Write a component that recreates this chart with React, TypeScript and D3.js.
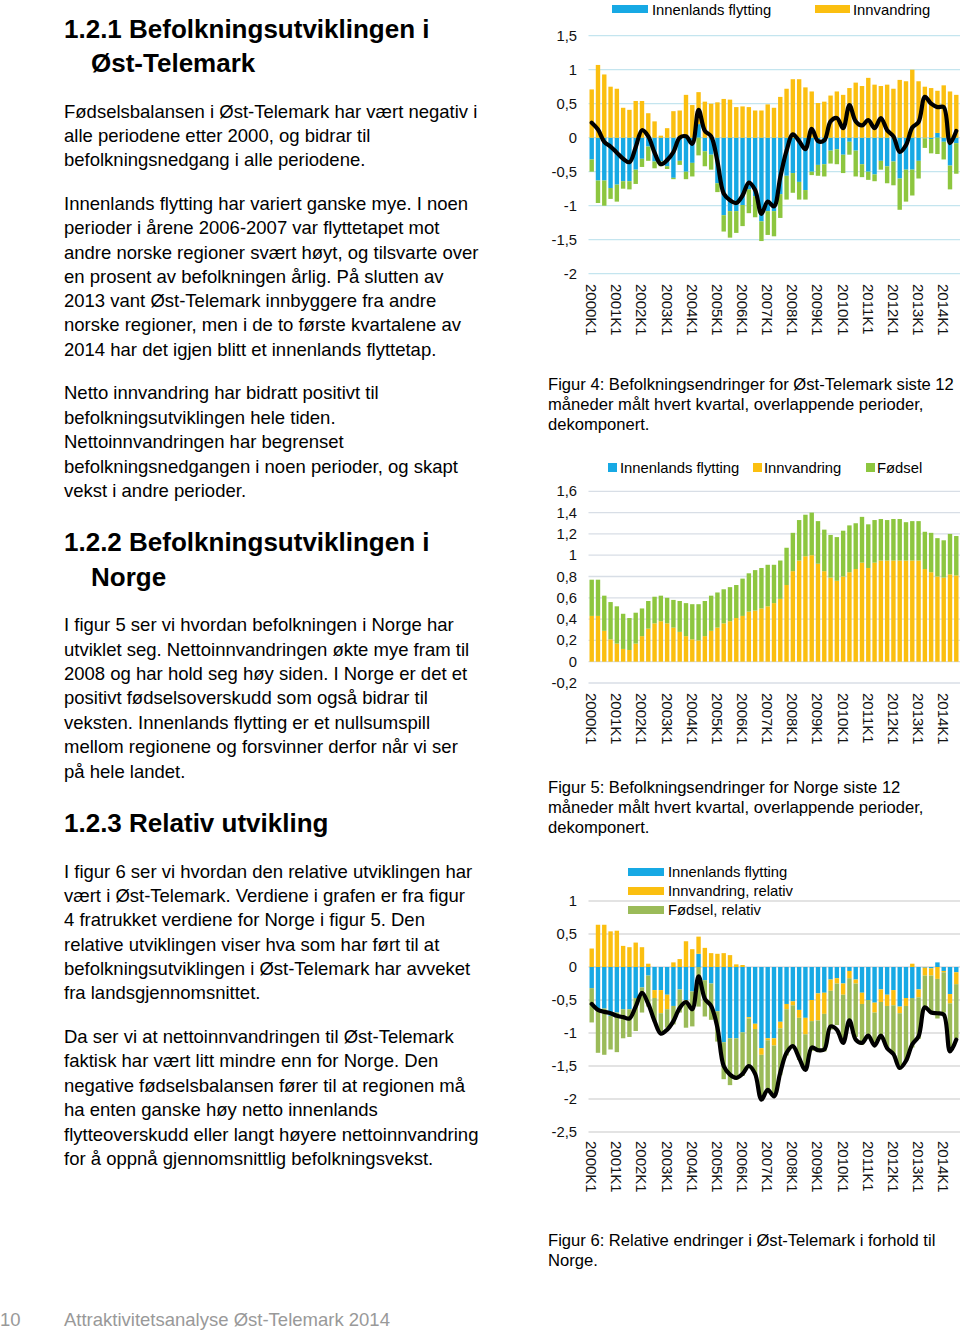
import React from 'react';
import * as d3 from 'd3';

const FONT = '"Liberation Sans", Arial, Helvetica, sans-serif';

const years = [2000, 2001, 2002, 2003, 2004, 2005, 2006, 2007, 2008, 2009, 2010, 2011, 2012, 2013, 2014];
const quarters: string[] = [];
years.forEach((y) => [1, 2, 3, 4].forEach((q) => quarters.push(`${y}K${q}`)));
const cats = quarters.slice(0, 59);
const tickLabels = ['2000K1', '2001K1', '2002K1', '2003K1', '2004K1', '2005K1', '2006K1', '2007K1', '2008K1', '2009K1', '2010K1', '2011K1', '2012K1', '2013K1', '2014K1'];

// Figur 4: Øst-Telemark
const innenlands4 = [
  -0.32, -0.63, -0.63, -0.74, -0.69, -0.64, -0.64, -0.47, -0.31, -0.13,
  -0.35, -0.35, -0.42, -0.59, -0.34, -0.50, -0.37, 0.20, -0.20, -0.25,
  -0.67, -1.14, -1.08, -1.08, -0.99, -0.76, -0.86, -1.23, -1.08, -1.08,
  -0.83, -0.56, -0.52, -0.65, -0.77, -0.50, -0.40, -0.39, -0.19, -0.17,
  -0.25, -0.06, -0.19, -0.39, -0.50, -0.54, -0.34, -0.42, -0.35, -0.60,
  -0.47, -0.47, -0.34, -0.01, -0.02, 0.07, -0.06, -0.41, -0.08,
];
const innvandring4 = [
  0.71, 1.07, 0.93, 0.75, 0.72, 0.44, 0.41, 0.54, 0.54, 0.36,
  0.24, 0.03, 0.14, 0.39, 0.40, 0.63, 0.48, 0.47, 0.53, 0.50,
  0.52, 0.57, 0.56, 0.45, 0.46, 0.45, 0.40, 0.40, 0.49, 0.44,
  0.60, 0.72, 0.86, 0.86, 0.74, 0.68, 0.51, 0.53, 0.62, 0.68,
  0.63, 0.73, 0.81, 0.76, 0.88, 0.78, 0.76, 0.78, 0.72, 0.85,
  0.83, 1.00, 0.83, 0.75, 0.73, 0.62, 0.77, 0.68, 0.63,
];
const fodsel4 = [
  -0.18, -0.33, -0.37, -0.16, -0.25, -0.11, -0.12, -0.21, -0.12, -0.21,
  -0.10, -0.07, -0.04, -0.02, -0.06, -0.11, -0.20, -0.26, -0.22, -0.22,
  -0.13, -0.24, -0.39, -0.32, -0.31, -0.35, -0.31, -0.29, -0.35, -0.37,
  -0.35, -0.35, -0.29, -0.26, -0.14, -0.05, -0.16, -0.18, -0.19, -0.22,
  -0.27, -0.19, -0.38, -0.19, -0.12, -0.10, -0.13, -0.25, -0.35, -0.46,
  -0.47, -0.38, -0.26, -0.14, -0.21, -0.24, -0.26, -0.35, -0.45,
];
const netto4 = [
  0.22, 0.12, -0.06, -0.13, -0.22, -0.31, -0.36, -0.14, 0.11, 0.02,
  -0.22, -0.39, -0.33, -0.21, 0.00, 0.02, -0.09, 0.41, 0.10, 0.02,
  -0.35, -0.82, -0.92, -0.96, -0.85, -0.66, -0.77, -1.12, -0.94, -1.01,
  -0.58, -0.19, 0.05, -0.05, -0.17, 0.13, -0.05, -0.04, 0.24, 0.29,
  0.14, 0.48, 0.24, 0.18, 0.26, 0.14, 0.29, 0.11, 0.02, -0.21,
  -0.11, 0.15, 0.23, 0.60, 0.50, 0.45, 0.45, -0.08, 0.10,
];

// Figur 5: Norge
const innenlands5 = [
  0, 0, 0, 0, 0, 0, 0, 0, 0, 0,
  0, 0, 0, 0, 0, 0, 0, 0, 0, 0,
  0, 0, 0, 0, 0, 0, 0, 0, 0, 0,
  0, 0, 0, 0, 0, 0, 0, 0, 0, 0,
  0, 0, 0, 0, 0, 0, 0, 0, 0, 0,
  0, 0, 0, 0, 0, 0, 0, 0, 0,
];
const innvandring5 = [
  0.43, 0.43, 0.29, 0.21, 0.17, 0.12, 0.11, 0.17, 0.24, 0.31,
  0.36, 0.38, 0.36, 0.32, 0.28, 0.24, 0.21, 0.20, 0.24, 0.29,
  0.32, 0.36, 0.38, 0.41, 0.43, 0.47, 0.48, 0.50, 0.52, 0.55,
  0.59, 0.72, 0.85, 0.95, 0.99, 1.00, 0.92, 0.85, 0.79, 0.76,
  0.80, 0.84, 0.87, 0.93, 0.88, 0.93, 0.95, 0.95, 0.95, 0.95,
  0.95, 0.95, 0.95, 0.87, 0.84, 0.80, 0.79, 0.82, 0.81,
];
const fodsel5 = [
  0.34, 0.34, 0.33, 0.35, 0.35, 0.33, 0.30, 0.29, 0.26, 0.26,
  0.25, 0.24, 0.24, 0.26, 0.29, 0.31, 0.33, 0.34, 0.33, 0.33,
  0.33, 0.32, 0.32, 0.31, 0.35, 0.36, 0.38, 0.38, 0.39, 0.36,
  0.36, 0.35, 0.36, 0.38, 0.39, 0.40, 0.40, 0.39, 0.40, 0.41,
  0.43, 0.44, 0.43, 0.43, 0.41, 0.40, 0.39, 0.38, 0.39, 0.39,
  0.36, 0.37, 0.37, 0.35, 0.37, 0.36, 0.35, 0.38, 0.37,
];

// Figur 6: relativ
const innenlands6 = [
  -0.32, -0.63, -0.63, -0.74, -0.69, -0.64, -0.64, -0.47, -0.31, -0.13,
  -0.35, -0.35, -0.42, -0.59, -0.34, -0.50, -0.37, 0.20, -0.20, -0.25,
  -0.67, -1.14, -1.08, -1.08, -0.99, -0.76, -0.86, -1.23, -1.08, -1.08,
  -0.83, -0.56, -0.52, -0.65, -0.77, -0.50, -0.40, -0.39, -0.19, -0.17,
  -0.25, -0.06, -0.19, -0.39, -0.50, -0.54, -0.34, -0.42, -0.35, -0.60,
  -0.47, -0.47, -0.34, -0.01, -0.02, 0.07, -0.06, -0.41, -0.08,
];
const innvandring6 = [
  0.28, 0.64, 0.64, 0.54, 0.55, 0.32, 0.30, 0.37, 0.30, 0.05,
  -0.12, -0.35, -0.22, 0.07, 0.12, 0.39, 0.27, 0.26, 0.29, 0.21,
  0.20, 0.21, 0.18, 0.04, 0.03, -0.02, -0.08, -0.10, -0.03, -0.11,
  -0.10, -0.08, -0.06, -0.12, -0.25, -0.32, -0.41, -0.32, -0.17, -0.08,
  -0.17, -0.11, -0.06, -0.17, 0.00, -0.15, -0.19, -0.17, -0.23, -0.10,
  -0.12, 0.05, -0.12, -0.12, -0.11, -0.18, -0.02, -0.14, -0.18,
];
const fodsel6 = [
  -0.52, -0.67, -0.70, -0.51, -0.60, -0.44, -0.42, -0.50, -0.38, -0.47,
  -0.35, -0.31, -0.28, -0.28, -0.35, -0.42, -0.53, -0.60, -0.55, -0.55,
  -0.46, -0.56, -0.71, -0.63, -0.66, -0.71, -0.69, -0.67, -0.74, -0.73,
  -0.71, -0.70, -0.65, -0.64, -0.53, -0.45, -0.48, -0.57, -0.59, -0.63,
  -0.70, -0.63, -0.81, -0.62, -0.53, -0.50, -0.52, -0.63, -0.74, -0.85,
  -0.83, -0.75, -0.63, -0.49, -0.58, -0.60, -0.61, -0.73, -0.82,
];
const netto6 = [
  -0.56, -0.65, -0.68, -0.70, -0.74, -0.76, -0.78, -0.60, -0.39, -0.56,
  -0.82, -1.01, -0.95, -0.82, -0.62, -0.53, -0.64, -0.14, -0.48, -0.59,
  -0.92, -1.50, -1.63, -1.68, -1.62, -1.50, -1.62, -2.01, -1.86, -1.96,
  -1.60, -1.30, -1.20, -1.38, -1.56, -1.22, -1.26, -1.25, -0.90, -0.95,
  -1.15, -0.81, -1.10, -1.15, -1.04, -1.19, -1.04, -1.23, -1.32, -1.53,
  -1.42, -1.17, -1.05, -0.61, -0.69, -0.70, -0.72, -1.28, -1.10,
];

const yTicks4 = [1.5, 1, 0.5, 0, -0.5, -1, -1.5, -2];
const yTicks5 = [1.6, 1.4, 1.2, 1, 0.8, 0.6, 0.4, 0.2, 0, -0.2];
const yTicks6 = [1, 0.5, 0, -0.5, -1, -1.5, -2, -2.5];

const BLUE = '#17a9e4';
const ORANGE = '#fbbf10';
const GREEN = '#8dc63f';
const GREEN6 = '#9bbb59';

const fmt = (v: number) => String(v).replace('.', ',');

type Series = { key: string; values: number[]; color: string };

function Chart(props: {
  top: number; bottom: number; domain: [number, number]; ticks: number[];
  series: Series[]; line?: number[]; grid: string; labelY: number;
}) {
  const { top, bottom, domain, ticks, series, line, grid, labelY } = props;
  const x = d3.scaleBand<string>().domain(cats).range([588.56, 959.43]).paddingInner(0.3).paddingOuter(0.15);
  const y = d3.scaleLinear().domain(domain).range([bottom, top]);
  const bw = x.bandwidth();
  const rows = cats.map((c, i) => {
    const r: any = { c };
    series.forEach((s) => (r[s.key] = s.values[i]));
    return r;
  });
  const layers = d3.stack<any>().keys(series.map((s) => s.key)).offset(d3.stackOffsetDiverging)(rows);
  const lineGen = d3.line<number>()
    .x((_, i) => (x(cats[i]) as number) + bw / 2)
    .y((v) => y(v))
    .curve(d3.curveCatmullRom.alpha(0.5));
  return (
    <g>
      {ticks.map((t) => (
        <g key={t}>
          <line x1={588.5} x2={960} y1={y(t)} y2={y(t)} stroke={grid} strokeWidth={1.3} />
          <text x={577} y={y(t)} textAnchor="end" dominantBaseline="central" fontSize={14.8} fill="#111">{fmt(t)}</text>
        </g>
      ))}
      {layers.map((layer, li) => (
        <g key={layer.key} fill={series[li].color}>
          {layer.map((d, i) => {
            const a = y(d[0]);
            const b = y(d[1]);
            const h = Math.abs(a - b);
            if (h < 0.01) return null;
            return <rect key={i} x={x(cats[i])} y={Math.min(a, b)} width={bw} height={h} />;
          })}
        </g>
      ))}
      {line && (
        <path d={lineGen(line) || ''} fill="none" stroke="#000" strokeWidth={4.2} strokeLinejoin="round" strokeLinecap="round" />
      )}
      {tickLabels.map((t) => (
        <text key={t} transform={`translate(${(x(t) as number) + bw / 2},${labelY}) rotate(90)`} dominantBaseline="central" fontSize={15} fill="#111">{t}</text>
      ))}
    </g>
  );
}

function Lines({ x, lines, size, weight }: { x: number; lines: [string, number][]; size: number; weight?: string }) {
  return (
    <g>
      {lines.map(([t, yy], i) => (
        <text key={i} x={x} y={yy} fontSize={size} fontWeight={weight || 'normal'} fill="#000">{t}</text>
      ))}
    </g>
  );
}

export default function App() {
  const body = 18.5;
  return (
    <svg width={960} height={1330} viewBox="0 0 960 1330" style={{ position: 'absolute', left: 0, top: 0, background: '#fff' }} fontFamily={FONT}>
      <rect x={0} y={0} width={960} height={1330} fill="#fff" />
      {/* Left column */}
      <Lines x={64} size={26} weight="bold" lines={[['1.2.1 Befolkningsutviklingen i', 38]]} />
      <Lines x={91} size={26} weight="bold" lines={[['Øst-Telemark', 72]]} />
      <Lines x={64} size={body} lines={[
        ['Fødselsbalansen i Øst-Telemark har vært negativ i', 118],
        ['alle periodene etter 2000, og bidrar til', 142],
        ['befolkningsnedgang i alle periodene.', 166],
        ['Innenlands flytting har variert ganske mye. I noen', 210],
        ['perioder i årene 2006-2007 var flyttetapet mot', 234],
        ['andre norske regioner svært høyt, og tilsvarte over', 259],
        ['en prosent av befolkningen årlig. På slutten av', 283],
        ['2013 vant Øst-Telemark innbyggere fra andre', 307],
        ['norske regioner, men i de to første kvartalene av', 331],
        ['2014 har det igjen blitt et innenlands flyttetap.', 356],
        ['Netto innvandring har bidratt positivt til', 399],
        ['befolkningsutviklingen hele tiden.', 424],
        ['Nettoinnvandringen har begrenset', 448],
        ['befolkningsnedgangen i noen perioder, og skapt', 473],
        ['vekst i andre perioder.', 497],
      ]} />
      <Lines x={64} size={26} weight="bold" lines={[['1.2.2 Befolkningsutviklingen i', 551]]} />
      <Lines x={91} size={26} weight="bold" lines={[['Norge', 586]]} />
      <Lines x={64} size={body} lines={[
        ['I figur 5 ser vi hvordan befolkningen i Norge har', 631],
        ['utviklet seg. Nettoinnvandringen økte mye fram til', 656],
        ['2008 og har hold seg høy siden. I Norge er det et', 680],
        ['positivt fødselsoverskudd som også bidrar til', 704],
        ['veksten. Innenlands flytting er et nullsumspill', 729],
        ['mellom regionene og forsvinner derfor når vi ser', 753],
        ['på hele landet.', 778],
      ]} />
      <Lines x={64} size={26} weight="bold" lines={[['1.2.3 Relativ utvikling', 832]]} />
      <Lines x={64} size={body} lines={[
        ['I figur 6 ser vi hvordan den relative utviklingen har', 878],
        ['vært i Øst-Telemark. Verdiene i grafen er fra figur', 902],
        ['4 fratrukket verdiene for Norge i figur 5. Den', 926],
        ['relative utviklingen viser hva som har ført til at', 951],
        ['befolkningsutviklingen i Øst-Telemark har avveket', 975],
        ['fra landsgjennomsnittet.', 999],
        ['Da ser vi at nettoinnvandringen til Øst-Telemark', 1043],
        ['faktisk har vært litt mindre enn for Norge. Den', 1067],
        ['negative fødselsbalansen fører til at regionen må', 1092],
        ['ha enten ganske høy netto innenlands', 1116],
        ['flytteoverskudd eller langt høyere nettoinnvandring', 1141],
        ['for å oppnå gjennomsnittlig befolkningsvekst.', 1165],
      ]} />
      {/* Footer */}
      <text x={0} y={1326} fontSize={body} fill="#999">10</text>
      <text x={64} y={1326} fontSize={body} fill="#999">Attraktivitetsanalyse Øst-Telemark 2014</text>

      {/* Chart 1 */}
      <rect x={612} y={5} width={36} height={8} fill={BLUE} />
      <text x={652} y={10} dominantBaseline="central" fontSize={14.8}>Innenlands flytting</text>
      <rect x={815} y={5} width={35} height={8} fill={ORANGE} />
      <text x={853} y={10} dominantBaseline="central" fontSize={14.8}>Innvandring</text>
      <Chart top={35.7} bottom={273.7} domain={[-2, 1.5]} ticks={yTicks4} grid="#c4e5ef" labelY={284}
        series={[
          { key: 'innenlands', values: innenlands4, color: BLUE },
          { key: 'innvandring', values: innvandring4, color: ORANGE },
          { key: 'fodsel', values: fodsel4, color: GREEN },
        ]} line={netto4} />
      <Lines x={548} size={16.6} lines={[
        ['Figur 4: Befolkningsendringer for Øst-Telemark siste 12', 390],
        ['måneder målt hvert kvartal, overlappende perioder,', 410],
        ['dekomponert.', 430],
      ]} />

      {/* Chart 2 */}
      <rect x={608} y={463} width={9} height={9} fill={BLUE} />
      <text x={620} y={468} dominantBaseline="central" fontSize={14.8}>Innenlands flytting</text>
      <rect x={753} y={463} width={9} height={9} fill={ORANGE} />
      <text x={764} y={468} dominantBaseline="central" fontSize={14.8}>Innvandring</text>
      <rect x={866} y={463} width={9} height={9} fill={GREEN} />
      <text x={877} y={468} dominantBaseline="central" fontSize={14.8}>Fødsel</text>
      <Chart top={491.3} bottom={683} domain={[-0.2, 1.6]} ticks={yTicks5} grid="#d8dee6" labelY={693}
        series={[
          { key: 'innenlands', values: innenlands5, color: BLUE },
          { key: 'innvandring', values: innvandring5, color: ORANGE },
          { key: 'fodsel', values: fodsel5, color: GREEN },
        ]} />
      <Lines x={548} size={16.6} lines={[
        ['Figur 5: Befolkningsendringer for Norge siste 12', 793],
        ['måneder målt hvert kvartal, overlappende perioder,', 813],
        ['dekomponert.', 833],
      ]} />

      {/* Chart 3 */}
      <rect x={628} y={868} width={36} height={8} fill={BLUE} />
      <text x={668} y={872} dominantBaseline="central" fontSize={14.8}>Innenlands flytting</text>
      <rect x={628} y={887} width={36} height={8} fill={ORANGE} />
      <text x={668} y={891} dominantBaseline="central" fontSize={14.8}>Innvandring, relativ</text>
      <rect x={628} y={906} width={36} height={8} fill={GREEN6} />
      <text x={668} y={910} dominantBaseline="central" fontSize={14.8}>Fødsel, relativ</text>
      <Chart top={901} bottom={1132} domain={[-2.5, 1]} ticks={yTicks6} grid="#dadada" labelY={1141}
        series={[
          { key: 'innenlands', values: innenlands6, color: BLUE },
          { key: 'innvandring', values: innvandring6, color: ORANGE },
          { key: 'fodsel', values: fodsel6, color: GREEN6 },
        ]} line={netto6} />
      <Lines x={548} size={16.6} lines={[
        ['Figur 6: Relative endringer i Øst-Telemark i forhold til', 1246],
        ['Norge.', 1266],
      ]} />
    </svg>
  );
}
